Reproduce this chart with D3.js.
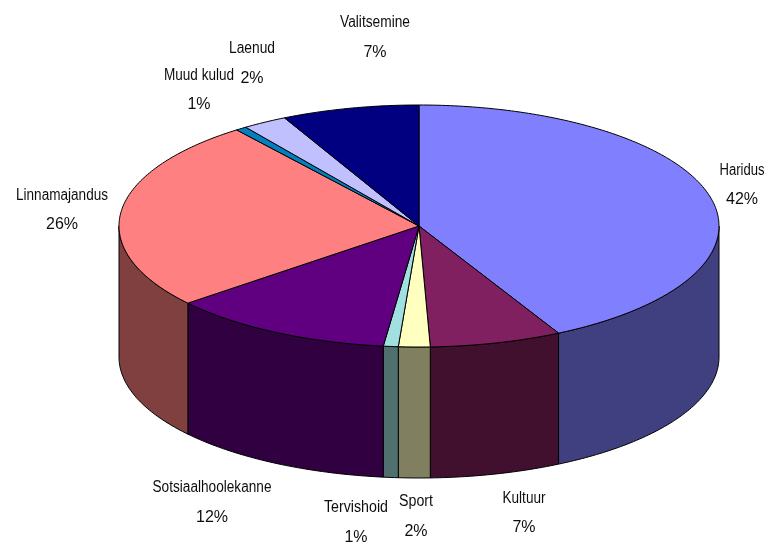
<!DOCTYPE html>
<html><head><meta charset="utf-8">
<script src="https://cdn.jsdelivr.net/npm/d3@7"></script>
<style>html,body{margin:0;padding:0;background:#fff}svg{display:block}</style>
</head><body><div id="chart"></div>
<script>
const categories = ["Haridus","Kultuur","Sport","Tervishoid","Sotsiaalhoolekanne","Linnamajandus","Muud kulud","Laenud","Valitsemine"];
const values = [42.3,7.1,1.7,0.8,12.1,25.6,0.6,2.4,7.4];
const topColors = ["#8080ff","#802060","#ffffc0","#a0e0e0","#600080","#ff8080","#0080c0","#c0c0ff","#000080"];
const sideColors = ["#404080","#40102e","#808060","#507070","#300040","#804040","#004060","#606080","#000040"];
// Label layout (centre x, name baseline y, percent baseline y, name width)
const labelX = [742,524,416,356,212,62,199,252,375];
const labelY = [175,503,506,512,492,200,80,53,27];
const percentY = [204,532,536,542,522,229,109,83,57];
const labelW = [45,43,34,64,119,92,70,46,70];

const W=771,H=552,depth=131;
const svg=d3.select("#chart").append("svg").attr("width",W).attr("height",H);
const defs=svg.append("defs");
defs.append("filter").attr("id","soft").append("feGaussianBlur").attr("stdDeviation",0.45);

const x=d3.scaleLinear().domain([-1,1]).range([119,719]);
const y=d3.scaleLinear().domain([-1,1]).range([105,347]);
const pie=d3.pie().sort(null).value(d=>d)(values);
const pt=(a,dy=0)=>[x(Math.sin(a)),y(-Math.cos(a))+dy];
const samples=(a0,a1)=>{const n=Math.max(2,Math.ceil((a1-a0)/0.015));return d3.range(n+1).map(i=>a0+(a1-a0)*i/n);};
const line=d3.line();

// Side wall: only the front half of the ellipse (angles 90..270 deg) is visible
const sideG=svg.append("g");
pie.forEach((p,i)=>{
  const a0=Math.max(p.startAngle,Math.PI/2),a1=Math.min(p.endAngle,Math.PI*1.5);
  if(a1<=a0) return;
  const s=samples(a0,a1);
  const pts=s.map(a=>pt(a)).concat(s.slice().reverse().map(a=>pt(a,depth)));
  sideG.append("path").attr("d",line(pts)+"Z").attr("fill",sideColors[i])
    .attr("stroke","#000").attr("stroke-width",1);
});

// Top face
const topG=svg.append("g");
pie.forEach((p,i)=>{
  const pts=[[x(0),y(0)]].concat(samples(p.startAngle,p.endAngle).map(a=>pt(a)));
  topG.append("path").attr("d",line(pts)+"Z").attr("fill",topColors[i])
    .attr("stroke","#000").attr("stroke-width",1).attr("stroke-linejoin","round");
});

// Labels
const fmt=d3.format(".0f");
const lab=svg.append("g").attr("filter","url(#soft)")
  .attr("font-family","'Liberation Sans',Arial,sans-serif").attr("font-size",16).attr("fill","#111").attr("text-anchor","middle");
categories.forEach((c,i)=>{
  lab.append("text").attr("x",labelX[i]).attr("y",labelY[i]).attr("textLength",labelW[i]).attr("lengthAdjust","spacingAndGlyphs").text(c);
  lab.append("text").attr("x",labelX[i]).attr("y",percentY[i]).text(fmt(values[i])+"%");
});
</script></body></html>
